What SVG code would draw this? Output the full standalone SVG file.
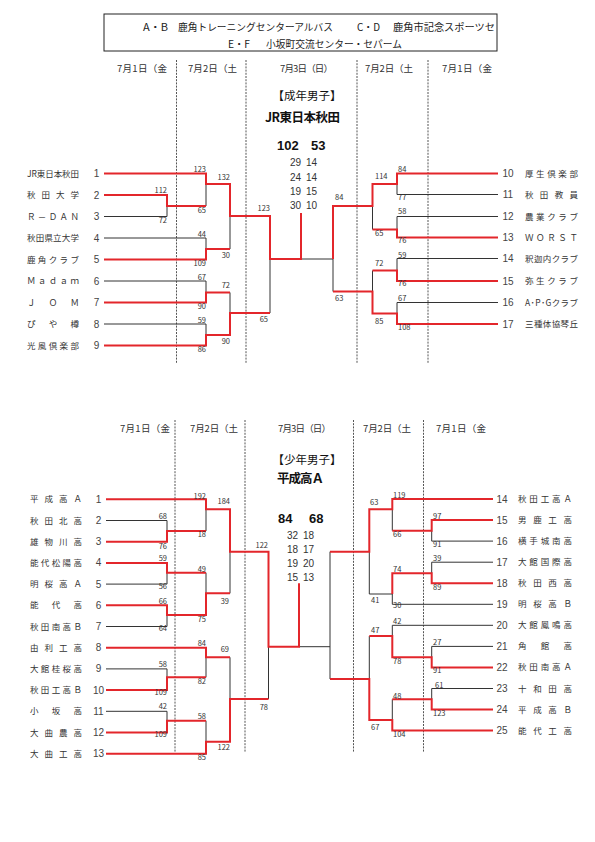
<svg xmlns="http://www.w3.org/2000/svg" width="595" height="842" viewBox="0 0 595 842">
<style>
text{font-family:"Noto Sans CJK JP","Noto Sans",sans-serif;fill:#333}
.r{stroke:#e3262b;stroke-width:2;fill:none}
.k{stroke:#333;stroke-width:1;fill:none}
.d{stroke:#555;stroke-width:1;stroke-dasharray:2 1.2}
.h{font-size:9.7px;fill:#222}
.dt{font-size:9.5px;fill:#333}
.nm{font-size:8.5px}
.no{font-size:10px;text-anchor:middle;font-family:"Liberation Sans",sans-serif;fill:#444}
.s{font-size:7.5px;font-family:"Liberation Sans",sans-serif;fill:#444}
.e{text-anchor:end}
.t{font-size:11.5px;fill:#111;text-anchor:middle}
.w{font-size:12.5px;font-weight:bold;fill:#111}
.sc{font-size:13px;font-weight:bold;fill:#111;font-family:"Liberation Sans",sans-serif}
.ss{font-size:10px;fill:#333;font-family:"Liberation Sans",sans-serif}
</style>
<defs><clipPath id="hc"><rect x="104" y="14" width="393" height="37"/></clipPath></defs>
<rect width="595" height="842" fill="#fff"/>
<g id="header">
<rect x="104" y="14" width="393" height="37" fill="none" stroke="#222" stroke-width="1"/>
<g clip-path="url(#hc)">
<text class="h" x="143" y="31" textLength="25" lengthAdjust="spacingAndGlyphs">A・B</text>
<text class="h" x="178" y="31" textLength="155" lengthAdjust="spacingAndGlyphs">鹿角トレーニングセンターアルバス</text>
<text class="h" x="357" y="31" textLength="23" lengthAdjust="spacingAndGlyphs">C・D</text>
<text class="h" x="393" y="31" textLength="102" lengthAdjust="spacingAndGlyphs">鹿角市記念スポーツセ</text>
<text class="h" x="228" y="47.5" textLength="22" lengthAdjust="spacingAndGlyphs">E・F</text>
<text class="h" x="266" y="47.5" textLength="136" lengthAdjust="spacingAndGlyphs">小坂町交流センター・セパーム</text>
</g>
</g>
<g id="dates">
<text class="dt" x="117" y="72" textLength="50">7月1日（金</text>
<text class="dt" x="188" y="72" textLength="49">7月2日（土</text>
<text class="dt" x="280" y="72" textLength="53">7月3日（日）</text>
<text class="dt" x="365" y="72" textLength="48">7月2日（土</text>
<text class="dt" x="442" y="72" textLength="50">7月1日（金</text>
<text class="dt" x="120" y="432" textLength="50">7月1日（金</text>
<text class="dt" x="190" y="432" textLength="48">7月2日（土</text>
<text class="dt" x="278" y="432" textLength="53">7月3日（日）</text>
<text class="dt" x="363" y="432" textLength="48">7月2日（土</text>
<text class="dt" x="436" y="432" textLength="50">7月1日（金</text>
</g>
<g id="dividers">
<path class="d" d="M176.5,60V363M246,60V363M357,60V363M428,60V363"/>
<path class="d" d="M175,420V752M245,420V752M353.5,420V752M423.5,420V752"/>
</g>
<g id="titles">
<text class="t" x="307" y="100">【成年男子】</text>
<text class="w" x="265" y="122" textLength="75">JR東日本秋田</text>
<text class="sc" x="277" y="150">102</text>
<text class="sc" x="311" y="150">53</text>
<text class="ss" x="290" y="166">29</text><text class="ss" x="306" y="166">14</text>
<text class="ss" x="290" y="180.5">24</text><text class="ss" x="306" y="180.5">14</text>
<text class="ss" x="290" y="195">19</text><text class="ss" x="306" y="195">15</text>
<text class="ss" x="290" y="209">30</text><text class="ss" x="306" y="209">10</text>
<text class="t" x="307" y="464">【少年男子】</text>
<text class="w" x="277" y="483" textLength="47">平成高Ａ</text>
<text class="sc" x="278" y="522.5">84</text>
<text class="sc" x="309" y="522.5">68</text>
<text class="ss" x="287" y="538.5">32</text><text class="ss" x="303" y="538.5">18</text>
<text class="ss" x="287" y="552.5">18</text><text class="ss" x="303" y="552.5">17</text>
<text class="ss" x="287" y="566.5">19</text><text class="ss" x="303" y="566.5">20</text>
<text class="ss" x="287" y="580.5">15</text><text class="ss" x="303" y="580.5">13</text>
</g>
<g id="connectors">
<path class="k" d="M104,216.5H167V206M206,184V206M104,238H206V249M230,216V249M104,281H206V292.5M104,324H206V335M230,292.5V313M270,259V313M301,259H333"/>
<path class="k" d="M498,194.5H397V184M498,216.5H397V229.5M372.5,206V229.5M498,258.5H397V270.5M498,302.5H397V313.5M372.5,270.5V291.5M333,259V291.5"/>
<path class="k" d="M106,520.5H167V531M206,509.3V531M106,584.1H167V572.7M106,626.5H167V615M206,572.7V593.3M230,551.7V593.3M106,668.9H167V677.3M206,657.3V677.3M106,711.3H167V720.7M206,720.7V741.7M230,657.3V699M268.5,646.7V699M299,646.7H330"/>
<path class="k" d="M493,541.1H431.7V530.7M392.3,509.3V530.7M493,562.2H431.7V573.3M493,604.3H392.3V594M369.3,551.7V594H392.3M493,625.3H392.3V636M493,646.4H431.7V657.3M493,688.5H431.7V699.3M392.3,699.3V720M369.3,636V679M330,551.7V679"/>
<path class="r" d="M104,173.5H206V184H230V216H270V259H301V213M104,195H167V206H206M104,259.5H206V249H230M104,302.5H206V292.5H230M104,345.5H206V335H230V313H270"/>
<path class="r" d="M498,173.5H397V184H372.5V206H333V259M498,237.5H397V229.5H372.5M498,281H397V270.5H372.5M498,324H397V313.5H372.5V291.5H333"/>
<path class="r" d="M106,499.3H206V509.3H230V551.7H268.5V646.7H299V583.3M106,541.7H167V531H206M106,562.9H167V572.7H206M106,605.3H167V615H206V593.3H230M106,647.7H206V657.3H230M106,690.1H167V677.3H206M106,732.5H167V720.7H206M106,753.7H206V741.7H230V699H268.5"/>
<path class="r" d="M493,499H392.3V509.3H369.3V551.7H330M493,520H431.7V530.7H392.3M493,583.2H431.7V573.3H392.3V594M493,667.4H431.7V657.3H392.3V636H369.3M493,709.5H431.7V699.3H392.3M493,730.5H392.3V720H369.3V679H330"/>
</g>
<g id="scores">
<g class="s e">
<text x="206" y="172">123</text><text x="206" y="212.5">65</text><text x="167" y="193">112</text><text x="167" y="223">72</text><text x="230" y="179.5">132</text><text x="206" y="236.5">44</text><text x="206" y="265.5">109</text><text x="230" y="258">30</text><text x="206" y="280">67</text><text x="206" y="309">90</text><text x="230" y="287.5">72</text><text x="206" y="322.5">59</text><text x="206" y="352">86</text><text x="230" y="344">90</text><text x="270" y="211">123</text><text x="268" y="322">65</text>
<text x="206" y="498.5">192</text><text x="230" y="503.5">184</text><text x="167" y="519">68</text><text x="206" y="537">18</text><text x="167" y="548.5">76</text><text x="167" y="561">59</text><text x="167" y="588.5">56</text><text x="206" y="572">49</text><text x="206" y="622">75</text><text x="229" y="603.5">39</text><text x="167" y="603.5">66</text><text x="167" y="631">64</text><text x="206" y="645.5">84</text><text x="229" y="652">69</text><text x="167" y="667">58</text><text x="167" y="695">109</text><text x="206" y="684">82</text><text x="167" y="708.5">42</text><text x="167" y="737">109</text><text x="206" y="718.5">58</text><text x="230" y="750">122</text><text x="206" y="760">85</text><text x="268" y="548">122</text><text x="268" y="709.5">78</text>
</g>
<g class="s">
<text x="398" y="172">84</text><text x="398" y="199.5">77</text><text x="375" y="179">114</text><text x="375" y="236">65</text><text x="398" y="213.5">58</text><text x="398" y="243">76</text><text x="398" y="257.5">59</text><text x="398" y="286">76</text><text x="375" y="266">72</text><text x="375" y="323.5">85</text><text x="398" y="301">67</text><text x="398" y="330">108</text><text x="335" y="200">84</text><text x="335" y="301">63</text>
<text x="393" y="497.5">119</text><text x="370" y="505">63</text><text x="433" y="519">97</text><text x="393" y="537">66</text><text x="433" y="547">91</text><text x="433" y="561">39</text><text x="393" y="572">74</text><text x="433" y="589.5">89</text><text x="371" y="603">41</text><text x="393" y="608">30</text><text x="393" y="624">42</text><text x="371" y="632.5">47</text><text x="433" y="645">27</text><text x="393" y="663.5">78</text><text x="433" y="673">91</text><text x="435" y="687.5">61</text><text x="393" y="698.5">48</text><text x="433" y="716">123</text><text x="371" y="729.5">67</text><text x="393" y="737">104</text>
</g>
</g>
<g id="t1"><text class="nm" x="27" y="176.5" textLength="52">JR東日本秋田</text><text class="no" x="96.5" y="177">1</text></g>
<g id="t2"><text class="nm" x="27" y="198" textLength="52">秋田大学</text><text class="no" x="96.5" y="198.5">2</text></g>
<g id="t3"><text class="nm" x="27" y="219.5" textLength="52">Ｒ－ＤＡＮ</text><text class="no" x="96.5" y="220">3</text></g>
<g id="t4"><text class="nm" x="27" y="241" textLength="52">秋田県立大学</text><text class="no" x="96.5" y="241.5">4</text></g>
<g id="t5"><text class="nm" x="27" y="262.5" textLength="52">鹿角クラブ</text><text class="no" x="96.5" y="263">5</text></g>
<g id="t6"><text class="nm" x="27" y="284" textLength="52">Ｍａｄａｍ</text><text class="no" x="96.5" y="284.5">6</text></g>
<g id="t7"><text class="nm" x="27" y="305.5" textLength="52">ＪＯＭ</text><text class="no" x="96.5" y="306">7</text></g>
<g id="t8"><text class="nm" x="27" y="327" textLength="52">ぴや樽</text><text class="no" x="96.5" y="327.5">8</text></g>
<g id="t9"><text class="nm" x="27" y="348.5" textLength="52">光風倶楽部</text><text class="no" x="96.5" y="349">9</text></g>
<g id="t10"><text class="no" x="508" y="177">10</text><text class="nm" x="525" y="176.5" textLength="53">厚生倶楽部</text></g>
<g id="t11"><text class="no" x="508" y="198">11</text><text class="nm" x="525" y="197.5" textLength="53">秋田教員</text></g>
<g id="t12"><text class="no" x="508" y="220">12</text><text class="nm" x="525" y="219.5" textLength="53">農業クラブ</text></g>
<g id="t13"><text class="no" x="508" y="241">13</text><text class="nm" x="525" y="240.5" textLength="53">ＷＯＲＳＴ</text></g>
<g id="t14"><text class="no" x="508" y="262">14</text><text class="nm" x="525" y="261.5" textLength="53">釈迦内クラブ</text></g>
<g id="t15"><text class="no" x="508" y="284.5">15</text><text class="nm" x="525" y="284" textLength="53">弥生クラブ</text></g>
<g id="t16"><text class="no" x="508" y="306">16</text><text class="nm" x="525" y="305.5" textLength="53">A･P･Gクラブ</text></g>
<g id="t17"><text class="no" x="508" y="327.5">17</text><text class="nm" x="525" y="327" textLength="53">三種体協琴丘</text></g>
<g id="b1"><text class="nm" x="30" y="502.3" textLength="52">平成高Ａ</text><text class="no" x="98.5" y="503">1</text></g>
<g id="b2"><text class="nm" x="30" y="523.5" textLength="52">秋田北高</text><text class="no" x="98.5" y="524">2</text></g>
<g id="b3"><text class="nm" x="30" y="544.7" textLength="52">雄物川高</text><text class="no" x="98.5" y="545.2">3</text></g>
<g id="b4"><text class="nm" x="30" y="565.9" textLength="52">能代松陽高</text><text class="no" x="98.5" y="566.4">4</text></g>
<g id="b5"><text class="nm" x="30" y="587.1" textLength="52">明桜高Ａ</text><text class="no" x="98.5" y="587.6">5</text></g>
<g id="b6"><text class="nm" x="30" y="608.3" textLength="52">能代高</text><text class="no" x="98.5" y="608.8">6</text></g>
<g id="b7"><text class="nm" x="30" y="629.5" textLength="52">秋田南高Ｂ</text><text class="no" x="98.5" y="630">7</text></g>
<g id="b8"><text class="nm" x="30" y="650.7" textLength="52">由利工高</text><text class="no" x="98.5" y="651.2">8</text></g>
<g id="b9"><text class="nm" x="30" y="671.9" textLength="52">大館桂桜高</text><text class="no" x="98.5" y="672.4">9</text></g>
<g id="b10"><text class="nm" x="30" y="693.1" textLength="52">秋田工高Ｂ</text><text class="no" x="98.5" y="693.6">10</text></g>
<g id="b11"><text class="nm" x="30" y="714.3" textLength="52">小坂高</text><text class="no" x="98.5" y="714.8">11</text></g>
<g id="b12"><text class="nm" x="30" y="735.5" textLength="52">大曲農高</text><text class="no" x="98.5" y="736">12</text></g>
<g id="b13"><text class="nm" x="30" y="756.7" textLength="52">大曲工高</text><text class="no" x="98.5" y="757.2">13</text></g>
<g id="b14"><text class="no" x="502" y="502.5">14</text><text class="nm" x="518" y="502" textLength="54">秋田工高Ａ</text></g>
<g id="b15"><text class="no" x="502" y="523.5">15</text><text class="nm" x="518" y="523" textLength="54">男鹿工高</text></g>
<g id="b16"><text class="no" x="502" y="544.6">16</text><text class="nm" x="518" y="544.1" textLength="54">横手城南高</text></g>
<g id="b17"><text class="no" x="502" y="565.7">17</text><text class="nm" x="518" y="565.2" textLength="54">大館国際高</text></g>
<g id="b18"><text class="no" x="502" y="586.7">18</text><text class="nm" x="518" y="586.2" textLength="54">秋田西高</text></g>
<g id="b19"><text class="no" x="502" y="607.8">19</text><text class="nm" x="518" y="607.3" textLength="54">明桜高Ｂ</text></g>
<g id="b20"><text class="no" x="502" y="628.8">20</text><text class="nm" x="518" y="628.3" textLength="54">大館鳳鳴高</text></g>
<g id="b21"><text class="no" x="502" y="649.9">21</text><text class="nm" x="518" y="649.4" textLength="54">角館高</text></g>
<g id="b22"><text class="no" x="502" y="670.9">22</text><text class="nm" x="518" y="670.4" textLength="54">秋田南高Ａ</text></g>
<g id="b23"><text class="no" x="502" y="692">23</text><text class="nm" x="518" y="691.5" textLength="54">十和田高</text></g>
<g id="b24"><text class="no" x="502" y="713">24</text><text class="nm" x="518" y="712.5" textLength="54">平成高Ｂ</text></g>
<g id="b25"><text class="no" x="502" y="734">25</text><text class="nm" x="518" y="733.5" textLength="54">能代工高</text></g>
</svg>
